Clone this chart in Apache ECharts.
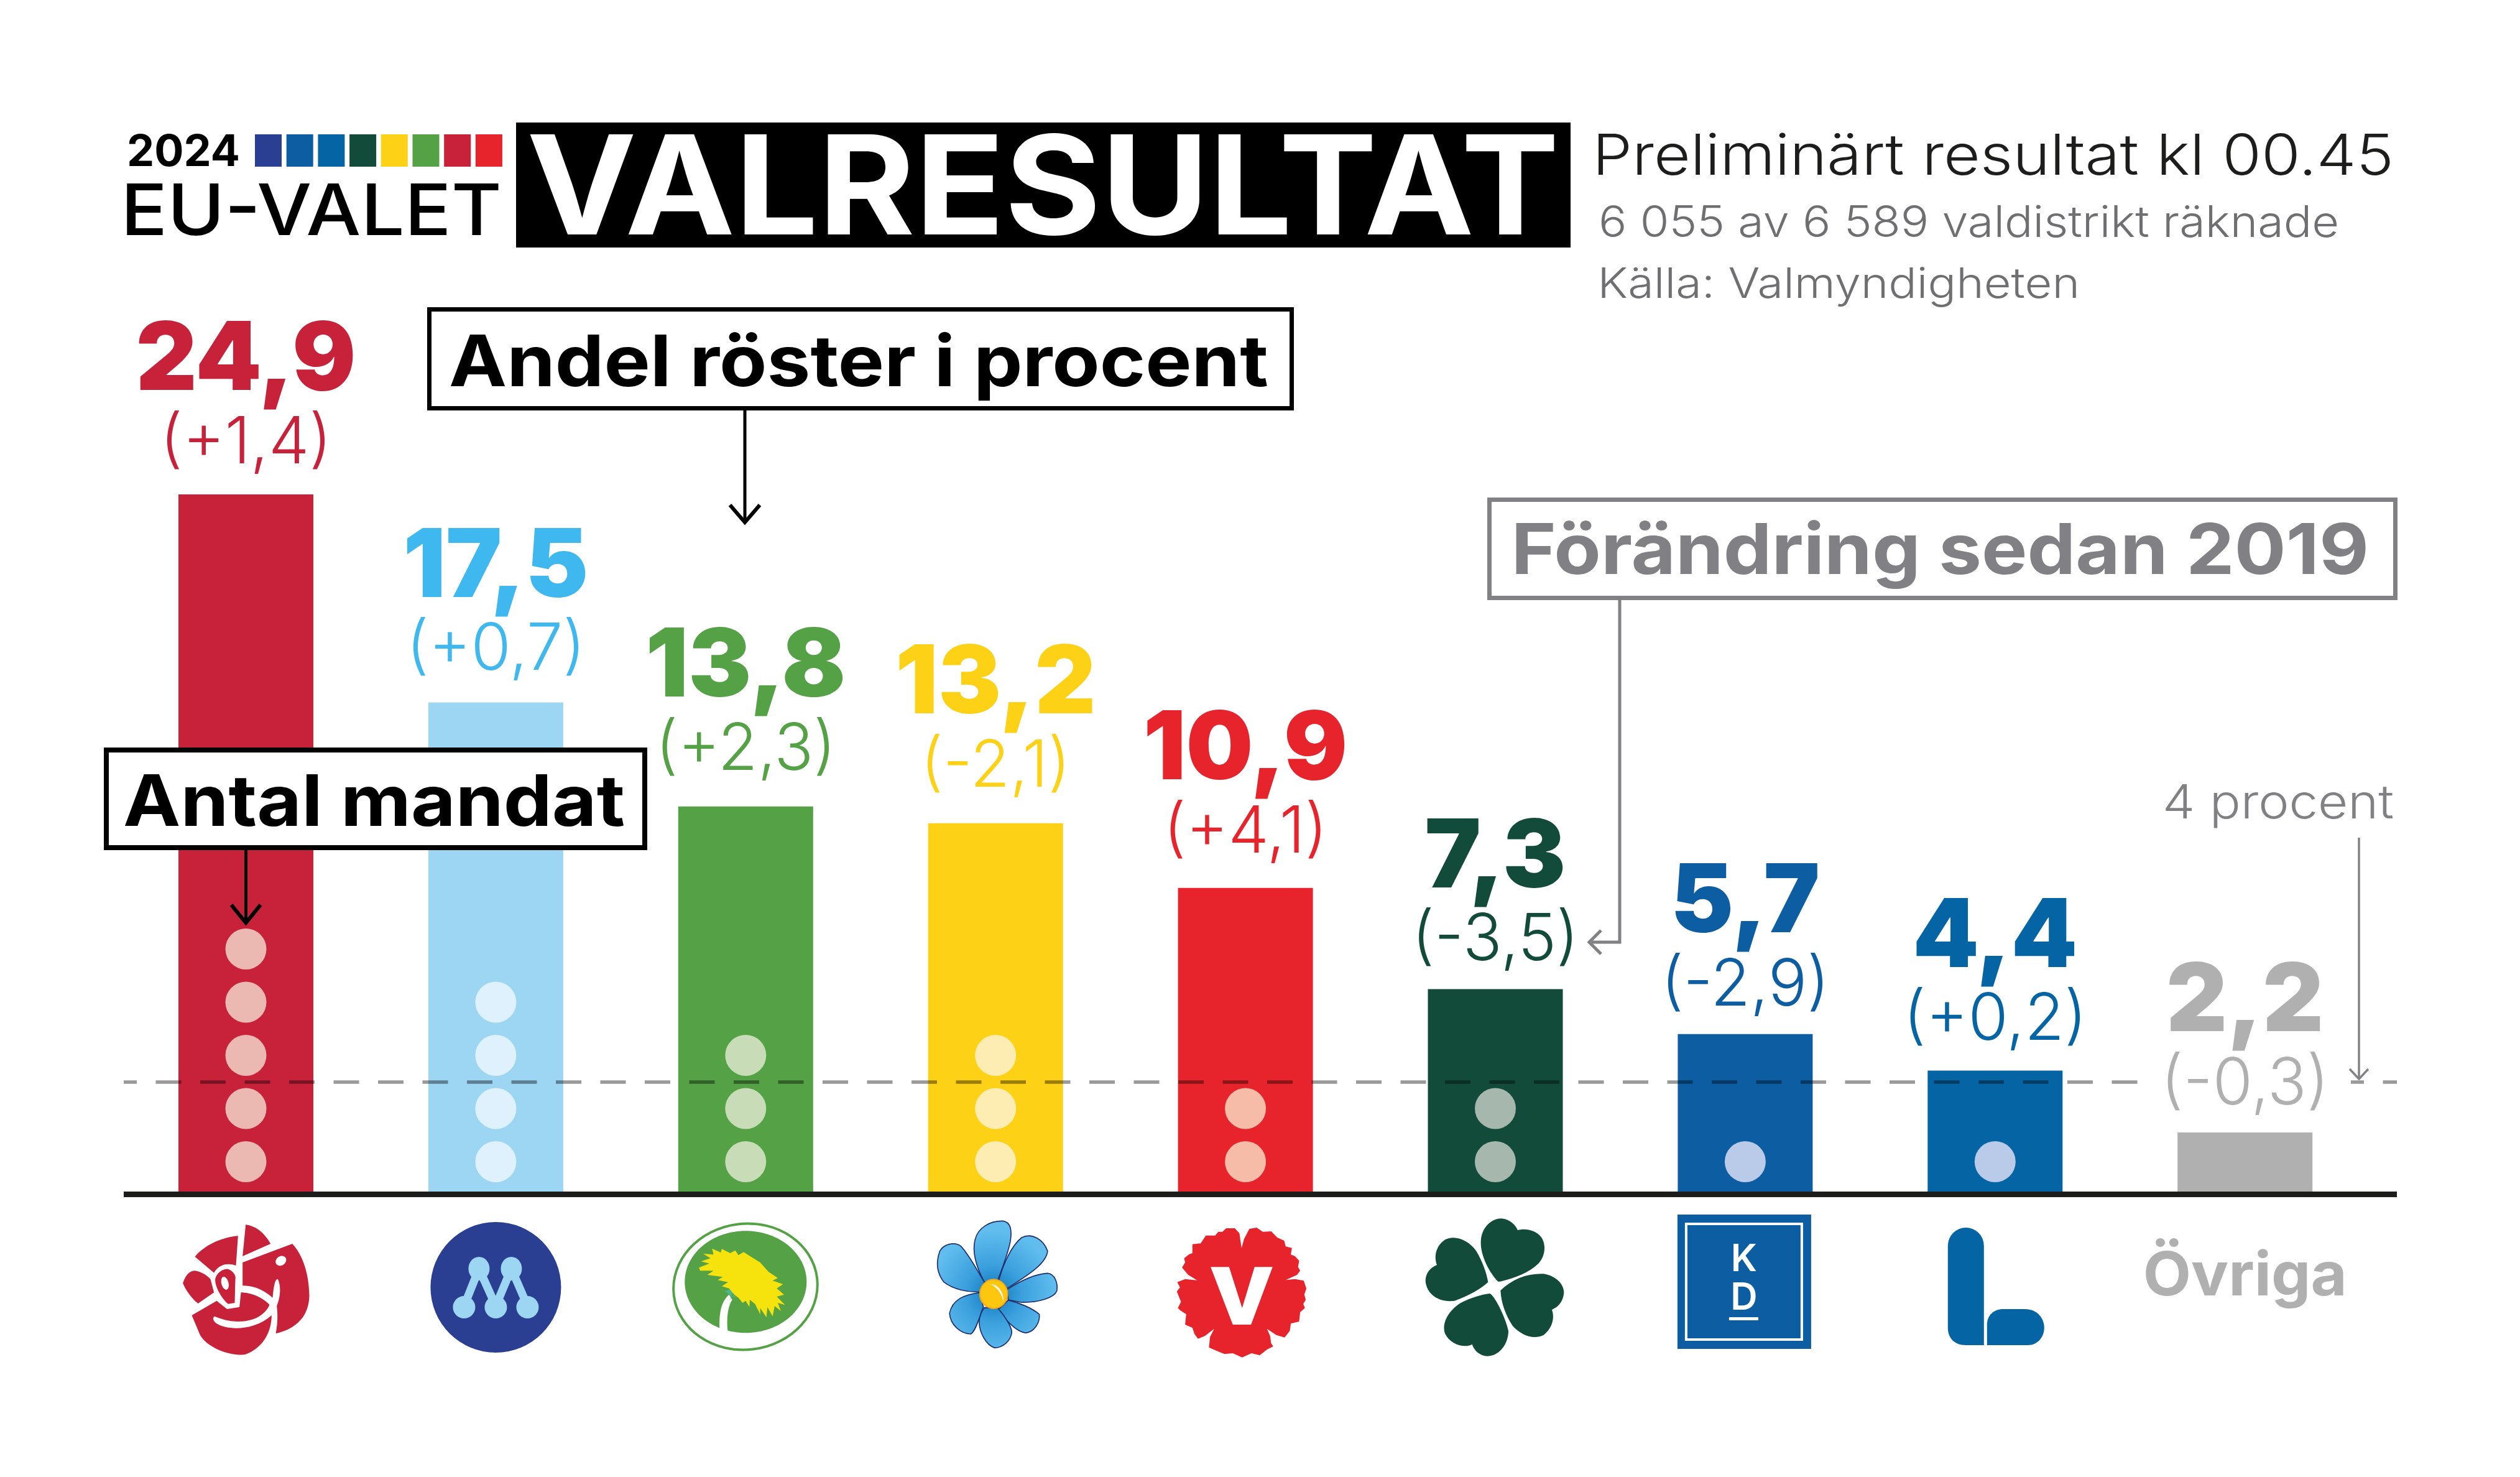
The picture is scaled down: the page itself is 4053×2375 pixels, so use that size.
<!DOCTYPE html>
<html>
<head>
<meta charset="utf-8">
<title>Valresultat EU-valet 2024</title>
<script src="https://cdn.jsdelivr.net/npm/echarts@6/dist/echarts.min.js"></script>
<style>html,body{margin:0;background:#fff}#c{width:4053px;height:2375px}</style>
</head>
<body>
<div id="c"></div>
<script>
// ---- data ----
const parties = ['S','M','MP','SD','V','C','KD','L','Övriga'];
const shares  = [24.9,17.5,13.8,13.2,10.9,7.3,5.7,4.4,2.2];
const changes = ['+1,4','+0,7','+2,3','-2,1','+4,1','-3,5','-2,9','+0,2','-0,3'];
const seats   = [5,4,3,3,2,2,1,1,0];
const threshold = 4;
const barColors  = ['#c8213a','#9dd6f3','#55a145','#fdd116','#e7232b','#134b3a','#0d5da2','#0565a4','#b0b0b0'];
const textColors = ['#c8213a','#3fb8f0','#55a145','#fdd116','#e7232b','#134b3a','#0d5da2','#0565a4','#b0b0b0'];
const dotColors  = ['#ebb8b2','#def1fc','#c8dcb8','#fdedb3','#f6bca8','#a6b7ae','#b9cbe8','#b9cbe8','#fff'];
const stripeColors = ['#2b3f92','#0d5da2','#0565a4','#134b3a','#fdd116','#55a145','#c8213a','#e7232b'];

// ---- layout constants ----
const FONT = 'Inter';
const GRAY = '#808085';
const X0 = 395.5, STEP = 401.9, AX_L = 199, AX_R = 3855, ZERO_Y = 1920.5, UNIT = 45.2, SEAT_PX = 85.5;
const labelGaps = [26,28,35,35,33,22,22,25,21];

const ctx = document.createElement('canvas').getContext('2d');
function measure(text, weight, size){ ctx.font = weight+' '+size+'px '+FONT; return ctx.measureText(text).width; }

// text fitted between left/right edges and to a cap height
function T(text, left, right, capTop, capBottom, weight, fill){
  const size = (capBottom-capTop)/0.727;
  const stem = /^[PEFK]/.test(text) ? 0.085*size : 0;
  const l = left-stem;
  return {type:'text', z:100, x:l, y:(capTop+capBottom)/2+0.065*size, scaleX:(right-l)/measure(text,weight,size), silent:true,
    style:{text, fill, font:weight+' '+size+'px '+FONT, textAlign:'left', textVerticalAlign:'middle'}};
}
function box(x1,y1,x2,y2,color,w){
  return {type:'rect', z:90, silent:true, shape:{x:x1+w/2,y:y1+w/2,width:x2-x1-w,height:y2-y1-w},
    style:{fill:'#fff',stroke:color,lineWidth:w}};
}
function line(points,color,w){
  return {type:'polyline', z:95, silent:true, shape:{points}, style:{fill:null,stroke:color,lineWidth:w}};
}

const graphics = [];
// header
graphics.push({type:'rect',z:90,silent:true,shape:{x:830,y:197,width:1696,height:201},style:{fill:'#000'}});
graphics.push(T('VALRESULTAT',847,2508,216,377,700,'#fff'));
graphics.push(T('2024',204,386,216,267,700,'#000'));
stripeColors.forEach((c,i)=>graphics.push({type:'rect',z:90,silent:true,
  shape:{x:410+i*50.7,y:216,width:43,height:52},style:{fill:c}}));
graphics.push(T('EU-VALET',204,807,295,378,500,'#000'));
graphics.push(T('Preliminärt resultat kl 00.45',2569,3850,215,281,300,'#1d1d1b'));
graphics.push(T('6 055 av 6 589 valdistrikt räknade',2571,3762,330,381,300,'#6f6f72'));
graphics.push(T('Källa: Valmyndigheten',2575,3345,430,479,300,'#6f6f72'));
// annotation: Andel
graphics.push(box(687,494,2081,660,'#000',7));
graphics.push(T('Andel röster i procent',722,2040,538,621,700,'#000'));
graphics.push(line([[1198,660],[1198,838]],'#000',5));
graphics.push(line([[1174,812],[1198,840],[1222,812]],'#000',6));
// annotation: Förändring
graphics.push(box(2392,800,3856,965,GRAY,7));
graphics.push(T('Förändring sedan 2019',2440,3810,841,923,700,GRAY));
graphics.push(line([[2605,965],[2605,1515],[2560,1515]],GRAY,5));
graphics.push(line([[2575,1496],[2556,1515],[2575,1534]],GRAY,5));
// annotation: Antal
graphics.push(box(167,1202,1041,1367,'#000',8));
graphics.push(T('Antal mandat',198,1005,1245,1328,700,'#000'));
graphics.push(line([[395.5,1367],[395.5,1480]],'#000',5));
graphics.push(line([[372,1455],[395.5,1484],[419,1455]],'#000',6));
// annotation: 4 procent
graphics.push(T('4 procent',3478,3850,1261,1316,300,GRAY));
graphics.push(line([[3794,1347],[3794,1733]],GRAY,3.5));
graphics.push(line([[3779,1719],[3794,1735],[3809,1719]],GRAY,3.5));

// ---- party logos, drawn in their own local coordinates ----
function p(d,fill,extra){ return Object.assign({type:'path',shape:{pathData:d},style:{fill}},extra||{}); }
function ell(cx,cy,rx,ry,fill,rot){ return {type:'ellipse',x:cx,y:cy,rotation:rot||0,shape:{cx:0,cy:0,rx,ry},style:{fill}}; }

function logoS(){ const c='#c8213a'; return {lx:376,y:1950,s:1/3,children:[
  p('M375,58 C430,65 470,105 495,150 L360,210 Z',c),
  p('M130,212 C175,160 250,120 338,112 L328,255 C285,240 245,250 222,290 Z',c),
  p('M72,340 C85,300 105,280 130,280 C160,285 185,300 205,320 L222,385 L145,438 C120,420 85,375 72,340 Z',c),
  p('M228,320 C235,290 265,270 290,272 C315,280 330,305 325,320 L322,435 L290,440 C265,420 225,360 228,320 Z',c),
  ell(275,340,17,32,'#fff',0.25),
  p('M360,240 L600,150 C650,205 680,290 682,400 C680,500 620,560 520,583 C530,530 530,490 525,450 C545,400 545,350 530,320 C515,320 510,360 505,410 C470,380 420,350 360,352 Z',c),
  ell(545,232,27,22,'#fff',0.6),
  p('M235,425 L285,465 L345,455 L352,385 C400,385 460,410 490,445 C470,490 420,525 340,525 C290,525 250,510 225,500 C215,505 215,520 235,535 C280,565 410,575 500,495 C500,560 470,650 370,685 C290,690 190,650 155,590 L115,495 Z',c)
]};}
function logoM(){ const c='#9dd6f3'; const seg=(a,b,e,f)=>({type:'line',shape:{x1:a,y1:b,x2:e,y2:f},style:{stroke:c,lineWidth:13}});
  return {lx:0,y:2070,s:1,children:[
  {type:'circle',shape:{cx:0,cy:0,r:105},style:{fill:'#2b3f92'}},
  seg(-27,-30,-51,30),seg(-27,-30,0,30),seg(25,-30,0,30),seg(25,-30,51,30),
  ell(-27,-30,17,19,c),ell(25,-30,17,19,c),ell(-51,32,18,18,c),ell(0,32,18,18,c),ell(51,32,18,18,c)
]};}
function logoMP(){ return {lx:420,y:1940,s:1/3,children:[
  {type:'ellipse',x:419,y:387,rotation:0.12,shape:{cx:0,cy:0,rx:348,ry:304},style:{fill:'none',stroke:'#55a145',lineWidth:12}},
  {type:'ellipse',x:420,y:364,rotation:0,shape:{cx:0,cy:0,rx:294,ry:246},style:{fill:'#55a145'}},
  p('M295,600 C290,520 300,460 340,425 L355,450 C335,480 325,540 335,612 Z','#fff'),
  p('M320,408 L370,390 L355,425 L340,455 L360,425 L375,440 L345,430 Z','#4fb58a'),
  p('M195,295 L245,275 L205,265 L250,250 L215,228 L265,232 L258,203 L300,222 L305,205 L345,225 L370,212 L385,235 L410,220 L450,245 L490,270 L530,315 L575,345 L550,358 L600,375 L570,395 L605,425 L570,435 L610,475 L575,465 L590,505 L560,480 L550,530 L525,485 L520,535 L490,490 L490,520 L465,470 L440,450 L438,485 L420,455 L405,465 L385,440 L365,425 L340,395 L305,385 L335,365 L285,355 L310,340 L235,330 L265,310 L200,310 Z','#f6e20d')
]};}
function logoSD(){
  const grad = new echarts.graphic.RadialGradient(385,420,300,[{offset:0,color:'#0f76bb'},{offset:.45,color:'#3a9fdc'},{offset:1,color:'#60bdee'}],true);
  const ps = ['M340,365 C300,290 280,220 295,160 C310,100 370,68 430,70 C465,75 475,110 465,170 C450,240 425,300 405,355 Z',
   'M410,355 C430,280 470,190 520,150 C570,125 625,160 645,215 C640,270 570,320 450,395 Z',
   'M450,400 C520,355 590,325 645,322 C680,325 695,370 690,405 C680,440 600,465 515,462 L455,450 Z',
   'M415,490 L455,452 C510,465 570,490 605,520 C610,560 580,605 540,610 C490,605 435,540 405,490 Z',
   'M340,488 L405,490 C440,530 475,585 472,610 C465,650 430,680 390,682 C350,670 315,610 315,555 C315,530 330,500 340,488 Z',
   'M320,420 L335,485 C320,520 300,600 275,615 C225,615 175,570 172,515 C185,450 240,425 320,415 Z',
   'M340,365 L320,412 C260,415 190,400 145,365 C110,320 105,270 125,215 C145,180 195,170 225,190 C265,230 300,300 340,365 Z'];
  return {lx:394,y:1940,s:1/3,children:ps.map(d=>({type:'path',shape:{pathData:d},style:{fill:grad,stroke:'#1f2f6e',lineWidth:5}})).concat([
   {type:'ellipse',x:385,y:422,shape:{cx:0,cy:0,rx:67,ry:70},style:{fill:'#fdc70f',stroke:'#f3a51c',lineWidth:6}},
   p('M370,375 C410,375 435,420 432,460 C425,425 405,390 370,375 Z','#fff')
  ])};
}
function logoV(){ const c='#e7232b';
  // saw-toothed carnation rim
  const rim = [[308,105],[350,105],[372,130],[382,200],[395,155],[420,108],[455,102],[485,122],[525,120],[555,150],[588,165],[595,193],[625,200],[620,232],[640,240],[660,262],[655,292],[665,310],[650,330],[595,355],[640,350],[682,358],[695,395],[685,425],[692,450],[680,470],[688,490],[665,510],[660,555],[620,565],[615,600],[590,632],[550,620],[505,590],[520,625],[525,660],[535,675],[505,690],[470,718],[430,708],[385,728],[340,708],[300,712],[270,700],[225,680],[230,630],[250,590],[205,625],[172,638],[155,615],[145,585],[110,570],[115,520],[85,500],[75,490],[90,460],[70,410],[85,390],[72,365],[110,350],[168,356],[125,330],[95,295],[110,270],[105,250],[130,230],[145,225],[145,182],[185,178],[210,140],[255,140],[270,122],[290,122]];
  return {lx:401,y:1940,s:1/3,children:[
   {type:'polygon',shape:{points:rim},style:{fill:c}},
   {type:'polygon',shape:{points:[[233,292],[322,292],[385,490],[445,292],[532,292],[428,570],[340,570]]},style:{fill:'#fff'}}
]};}
function logoC(){ const c='#134b3a'; return {lx:407,y:1940,s:1/3,children:[
  p('M420,362 C380,320 335,240 337,170 C340,95 395,58 435,58 C480,62 505,90 515,115 C545,105 600,110 630,150 C655,190 645,245 615,275 C570,320 500,345 430,362 Z',c),
  p('M432,405 C490,350 560,322 640,325 C700,335 738,375 738,415 C735,460 710,485 680,498 C695,540 680,590 640,620 C590,645 530,620 490,575 C460,530 435,470 432,405 Z',c),
  p('M380,420 C400,425 455,530 470,600 C470,660 430,720 370,722 C330,720 305,695 295,665 C255,685 190,665 165,615 C145,560 185,500 240,465 C290,440 340,425 380,420 Z',c),
  p('M372,365 C340,395 280,430 210,455 C130,465 75,420 70,360 C70,320 95,295 125,282 C110,240 120,190 165,160 C215,135 280,165 315,215 C345,265 365,320 372,365 Z',c)
]};}
function logoKD(){ const font='600 60px '+FONT; return {lx:2,y:0,s:1,children:[
  {type:'rect',shape:{x:-107,y:1953,width:215,height:216},style:{fill:'#0d5da2'}},
  {type:'rect',shape:{x:-93,y:1968,width:186,height:186},style:{fill:'none',stroke:'#fff',lineWidth:4}},
  {type:'text',x:0,y:2026,style:{text:'K',font,fill:'#fff',textAlign:'center',textVerticalAlign:'middle'}},
  {type:'text',x:0,y:2088,style:{text:'D',font,fill:'#fff',textAlign:'center',textVerticalAlign:'middle'}},
  {type:'rect',shape:{x:-24,y:2118,width:47,height:5},style:{fill:'#fff'}}
]};}
function logoL(){ const c='#0565a4'; return {lx:3207,y:0,s:1,children:[
  p('M3131,2003 A29,29 0 0 1 3189,2003 L3189,2163 L3160,2163 C3140,2163 3131,2150 3131,2135 Z',c),
  p('M3194,2163 L3194,2130 C3194,2115 3205,2105 3220,2105 L3255,2105 C3275,2105 3286,2120 3286,2135 C3286,2150 3275,2163 3260,2163 Z',c)
]};}
function logoOther(name){ const size=98; return {lx:0,y:0,s:1,children:[
  {type:'text',x:0,y:2054,scaleX:328/measure(name,700,size),style:{text:name,font:'700 '+size+'px '+FONT,fill:'#b0b0b0',textAlign:'center',textVerticalAlign:'middle'}}
]};}
const logos = {S:logoS,M:logoM,MP:logoMP,SD:logoSD,V:logoV,C:logoC,KD:logoKD,L:logoL};

// ---- series data built from the arrays ----
const xIndex = parties.map((_,i)=>i);
const barData = shares.map((v,i)=>({
  value:[i,v],
  itemStyle:{color:barColors[i]},
  label:{distance:labelGaps[i],rich:{
    v:{fontFamily:FONT,fontWeight:900,fontSize:152,lineHeight:153,color:textColors[i]},
    d:{fontFamily:FONT,fontWeight:300,fontSize:104,lineHeight:111,color:textColors[i]}
  }}
}));
const dotData = [];
seats.forEach((n,i)=>{ for(let k=0;k<n;k++) dotData.push({value:[i,k+0.614],itemStyle:{color:dotColors[i],opacity:1}}); });
const xMin = (AX_L-X0)/STEP, xMax = (AX_R-X0)/STEP;
const pxToX = px => (px-X0)/STEP;
const GRID_TOP = ZERO_Y-UNIT*40;
const SEAT_MAX = (ZERO_Y-GRID_TOP)/SEAT_PX;
const thresholdStyle = {color:'rgba(0,0,0,0.4)',width:5.5,type:[41,30.5],dashOffset:20,cap:'butt'};

const option = {
  animation:false,
  backgroundColor:'#fff',
  textStyle:{fontFamily:FONT},
  grid:{left:AX_L,right:4053-AX_R,top:GRID_TOP,bottom:2375-ZERO_Y,containLabel:false},
  xAxis:{type:'value',min:xMin,max:xMax,z:10,splitLine:{show:false},axisTick:{show:false},axisLabel:{show:false},
    axisLine:{show:true,onZero:false,lineStyle:{color:'#1d1d1b',width:9,cap:'butt'}}},
  yAxis:[
    {type:'value',min:0,max:40,interval:10,show:false,splitLine:{show:false}},
    {type:'value',min:0,max:SEAT_MAX,show:false,splitLine:{show:false}}
  ],
  series:[
    {type:'bar',name:'Andel röster',z:2,barWidth:217,data:barData,
      label:{show:true,position:'top',distance:31,align:'center',
        formatter:q=>'{v|'+String(shares[q.dataIndex].toFixed(1)).replace('.',',')+'}\n{d|('+changes[q.dataIndex]+')}'}},
    {type:'line',name:'4 procent',z:3,data:[],symbol:'none',
      markLine:{silent:true,symbol:'none',animation:false,lineStyle:thresholdStyle,label:{show:false},
        data:[[{coord:[xMin,threshold]},{coord:[pxToX(3439),threshold]}],
              [{coord:[pxToX(3781),threshold]},{coord:[xMax,threshold]}]]}},
    {type:'scatter',name:'Antal mandat',z:4,yAxisIndex:1,symbol:'circle',symbolSize:66,data:dotData,silent:true},
    {type:'custom',name:'Partier',z:5,clip:false,silent:true,data:xIndex.map(i=>[i,0]),
      renderItem:(params,api)=>{
        const i=api.value(0), x=api.coord([i,0])[0], name=parties[i];
        const L = logos[name] ? logos[name]() : logoOther(name);
        return {type:'group',x:x-L.lx*L.s,y:L.y,scaleX:L.s,scaleY:L.s,children:L.children};
      }}
  ],
  graphic:{elements:graphics}
};
const chart = echarts.init(document.getElementById('c'),null,{renderer:'canvas'});
chart.setOption(option);
</script>
</body>
</html>
